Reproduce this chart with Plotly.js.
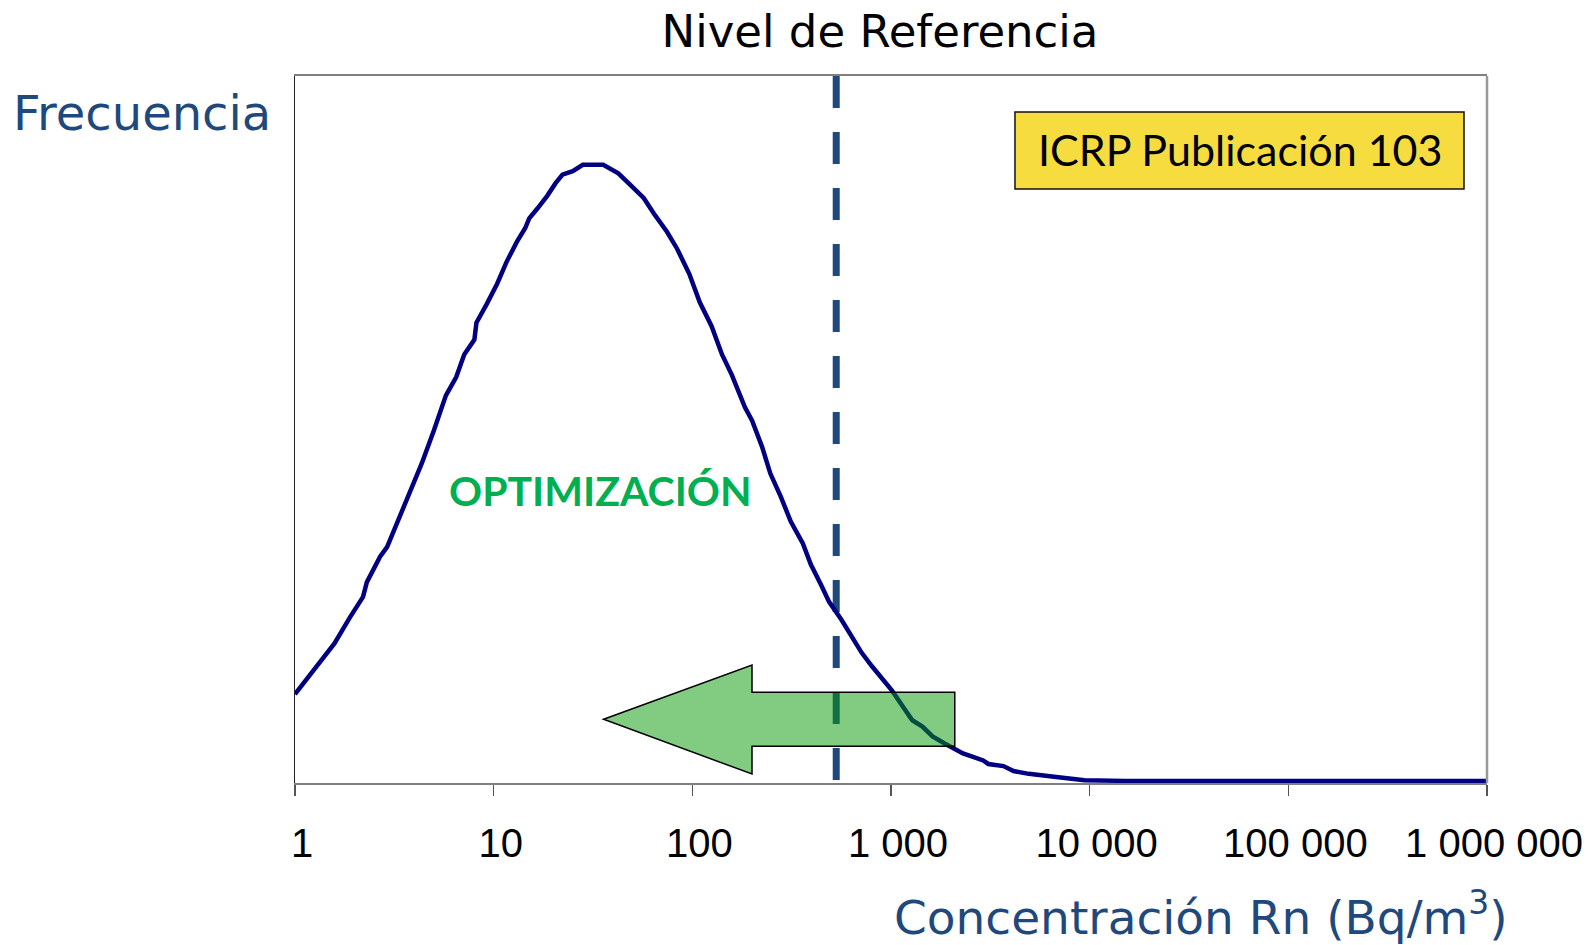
<!DOCTYPE html>
<html>
<head>
<meta charset="utf-8">
<script src="https://cdn.plot.ly/plotly-3.0.1.min.js"></script>
<style>
  html, body { margin: 0; padding: 0; background: #ffffff; }
  #chart { width: 1590px; height: 945px; }
</style>
</head>
<body>
<div id="chart"></div>
<script>
// Radon concentration (Bq/m3) and relative frequency
const concentration = [1, 1.18, 1.41, 1.58, 1.89, 2.20, 2.30, 2.68, 2.91, 3.13, 3.60, 4.05, 4.34, 5.00, 5.75, 6.48, 7.11, 8.00, 8.19, 9.21, 10.4, 11.6, 13.1, 14.4, 15.1, 16.6, 18.6, 20.5, 22.2, 25.0, 28.1, 35.6, 42.4, 47.7, 56.9, 64.0, 74.5, 83.8, 96.6, 109, 125, 141, 158, 184, 200, 225, 247, 278, 313, 360, 395, 445, 488, 562, 632, 711, 800, 899, 1012, 1138, 1280, 1439, 1619, 1862, 2047, 2302, 2588, 2911, 3090, 3681, 4140, 4940, 6620, 8380, 9420, 15100, 100000, 1000000];
const frequency = [0.123, 0.149, 0.178, 0.195, 0.232, 0.261, 0.282, 0.318, 0.332, 0.354, 0.394, 0.433, 0.450, 0.497, 0.547, 0.573, 0.605, 0.626, 0.650, 0.676, 0.705, 0.736, 0.765, 0.784, 0.798, 0.812, 0.830, 0.848, 0.860, 0.865, 0.874, 0.874, 0.862, 0.848, 0.827, 0.805, 0.779, 0.755, 0.719, 0.679, 0.645, 0.605, 0.576, 0.530, 0.511, 0.473, 0.436, 0.404, 0.368, 0.337, 0.307, 0.278, 0.254, 0.229, 0.206, 0.182, 0.163, 0.146, 0.128, 0.107, 0.086, 0.077, 0.063, 0.053, 0.046, 0.039, 0.034, 0.029, 0.024, 0.021, 0.014, 0.010, 0.006, 0.003, 0.001, 0, 0, 0];
const referenceLevel = 530;
const tickValues = [1, 10, 100, 1000, 10000, 100000, 1000000];
const tickLabels = ['1', '10', '100', '1 000', '10 000', '100 000', '1 000 000'];

const TEXT_BLUE = '#1F497D';
const GOTHIC = '"DejaVu Sans", sans-serif';

const traces = [
  {
    x: [referenceLevel, referenceLevel],
    y: [1, 0],
    mode: 'lines',
    line: { color: '#1F497D', width: 7, dash: '32px,24px' },
    hoverinfo: 'skip',
    showlegend: false
  },
  {
    x: concentration,
    y: frequency,
    mode: 'lines',
    line: { color: '#000080', width: 4.5 },
    showlegend: false
  }
];

const layout = {
  width: 1590,
  height: 945,
  margin: { l: 295, r: 103, t: 76, b: 162 },
  paper_bgcolor: '#ffffff',
  plot_bgcolor: '#ffffff',
  showlegend: false,
  title: {
    text: 'Nivel de Referencia',
    x: 880 / 1590,
    xref: 'container',
    xanchor: 'center',
    y: 1 - 31 / 945,
    yref: 'container',
    yanchor: 'middle',
    font: { family: GOTHIC, size: 45, color: '#000000' }
  },
  xaxis: {
    type: 'log',
    range: [0, 6],
    tickvals: tickValues,
    ticktext: tickLabels,
    ticks: 'outside',
    ticklen: 11,
    tickwidth: 1.5,
    tickcolor: '#555555',
    ticklabelshift: 7,
    ticklabelstandoff: 13,
    tickfont: { family: '"Liberation Sans", Arial, sans-serif', size: 40, color: '#000000' },
    showgrid: false,
    zeroline: false,
    showline: true,
    linecolor: '#808080',
    linewidth: 2,
    mirror: true
  },
  yaxis: {
    range: [-0.003, 1],
    showticklabels: false,
    ticks: '',
    showgrid: false,
    zeroline: false,
    showline: true,
    linecolor: '#222222',
    linewidth: 1.5
  },
  shapes: [
    {
      type: 'line', xref: 'paper', yref: 'paper',
      x0: 1, x1: 1, y0: 0, y1: 1,
      line: { color: '#999999', width: 2.5 }
    },
    {
      type: 'rect', xref: 'paper', yref: 'paper',
      x0: 0.604, x1: 0.9807, y0: 0.8402, y1: 0.9491,
      fillcolor: '#F7DC3F',
      line: { color: '#111111', width: 1.5 },
      layer: 'above'
    },
    {
      type: 'path', xref: 'paper', yref: 'paper',
      path: 'M 0.2589,0.0901 L 0.3834,0.1669 L 0.3834,0.1283 L 0.5535,0.1283 L 0.5535,0.0519 L 0.3834,0.0519 L 0.3834,0.0127 Z',
      fillcolor: 'rgba(5,153,5,0.5)',
      line: { color: '#000000', width: 1.5 },
      layer: 'above'
    }
  ],
  annotations: [
    {
      text: 'Frecuencia', xref: 'paper', yref: 'paper',
      x: (142 - 295) / 1192, y: (783 - 113) / 707,
      xanchor: 'center', yanchor: 'middle', showarrow: false,
      font: { family: GOTHIC, size: 48, color: TEXT_BLUE }
    },
    {
      text: 'Concentración Rn (Bq/m<sup>3</sup>)', xref: 'paper', yref: 'paper',
      x: (1201 - 295) / 1192, y: (783 - 914) / 707,
      xanchor: 'center', yanchor: 'middle', showarrow: false,
      font: { family: GOTHIC, size: 47, color: TEXT_BLUE }
    },
    {
      text: '<b>OPTIMIZACIÓN</b>', xref: 'paper', yref: 'paper',
      x: (600.5 - 295) / 1192, y: (783 - 490) / 707,
      xanchor: 'center', yanchor: 'middle', showarrow: false,
      font: { family: 'Lato, sans-serif', size: 41, color: '#00B050' }
    },
    {
      text: 'ICRP Publicación 103', xref: 'paper', yref: 'paper',
      x: (1239.5 - 295) / 1192, y: (783 - 150) / 707,
      xanchor: 'center', yanchor: 'middle', showarrow: false,
      font: { family: 'Lato, sans-serif', size: 43, color: '#000000' }
    }
  ]
};

Plotly.newPlot('chart', traces, layout, { displayModeBar: false, staticPlot: true });
</script>
</body>
</html>
